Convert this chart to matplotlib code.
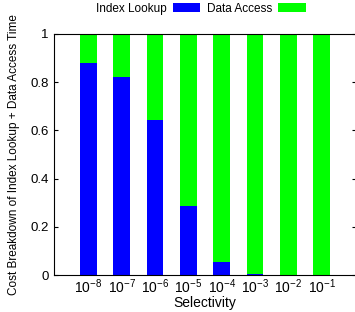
import numpy as np
import matplotlib
matplotlib.use("Agg")
import matplotlib.pyplot as plt

plt.rcParams['font.family'] = ['Liberation Sans', 'DejaVu Sans']
plt.rcParams['mathtext.fontset'] = 'custom'
plt.rcParams['mathtext.rm'] = 'Liberation Sans'
plt.rcParams['mathtext.it'] = 'Liberation Sans:italic'

# data
selectivity = ['$\\mathrm{10^{-8}}$', '$\\mathrm{10^{-7}}$', '$\\mathrm{10^{-6}}$', '$\\mathrm{10^{-5}}$',
               '$\\mathrm{10^{-4}}$', '$\\mathrm{10^{-3}}$', '$\\mathrm{10^{-2}}$', '$\\mathrm{10^{-1}}$']
index_lookup = [0.88, 0.82, 0.645, 0.285, 0.055, 0.005, 0.0, 0.0]
data_access = [1 - v for v in index_lookup]

fig = plt.figure(figsize=(3.55, 3.12), dpi=100)
ax = fig.add_axes([54/355, 1 - 275/312, 302/355, 241/312])

x = np.arange(len(selectivity))
ax.bar(x, index_lookup, 0.5, color='#0000ff', label='Index Lookup')
ax.bar(x, data_access, 0.5, bottom=index_lookup, color='#00ff00', label='Data Access')

ax.set_xlim(-1.03, 8.03)
ax.set_ylim(0, 1)
ax.set_xticks(x)
ax.set_xticklabels(selectivity, fontsize=10)
ax.set_yticks([0, 0.2, 0.4, 0.6, 0.8, 1])
ax.set_yticklabels(['0', '0.2', '0.4', '0.6', '0.8', '1'], fontsize=9.5)
ax.tick_params(axis='x', length=0, pad=2)
ax.tick_params(axis='y', direction='in', length=3, right=True, pad=4)

ax.set_xlabel('Selectivity', fontsize=10, labelpad=0)
ax.set_ylabel('Cost Breakdown of Index Lookup + Data Access Time', fontsize=8.5, labelpad=7)

ax.legend(loc='upper center', bbox_to_anchor=(201/355, 0.995), bbox_transform=fig.transFigure,
          ncol=2, frameon=False, markerfirst=False, fontsize=8.5,
          handlelength=2.3, handleheight=0.7, columnspacing=0.6, handletextpad=0.5,
          borderaxespad=0, borderpad=0.1)

fig.savefig('out.png', dpi=100)
